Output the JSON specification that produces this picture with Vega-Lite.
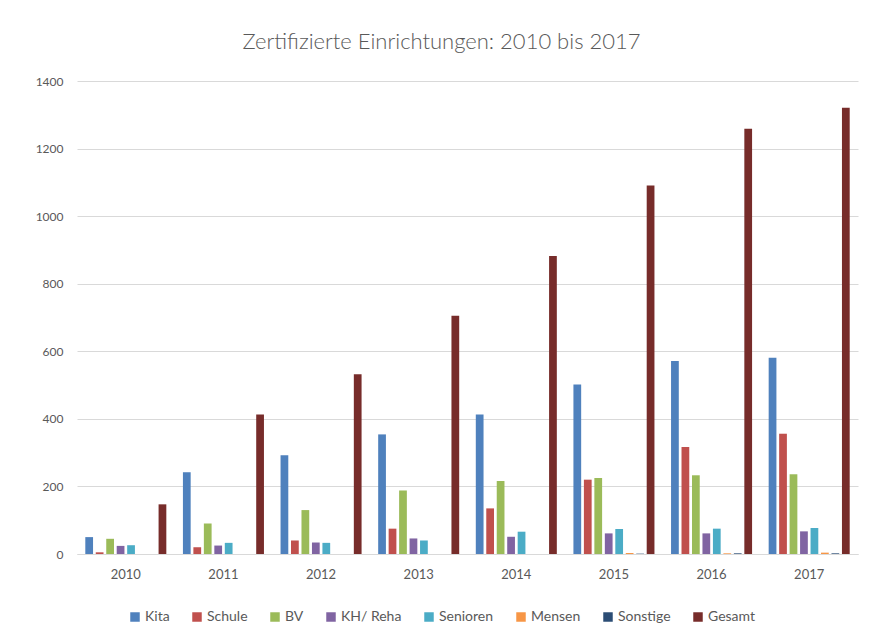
{
  "$schema": "https://vega.github.io/schema/vega-lite/v6.json",
  "width": 781,
  "height": 473,
  "autosize": {"type": "none"},
  "padding": {"left": 77, "top": 81, "right": 24, "bottom": 89},
  "background": "white",
  "title": {
    "text": "Zertifizierte Einrichtungen: 2010 bis 2017",
    "fontSize": 22,
    "font": "Lato",
    "fontWeight": 300,
    "color": "#595959",
    "anchor": "middle",
    "dx": -26,
    "offset": 21
  },
  "config": {
    "view": {"stroke": null},
    "font": "Lato"
  },
  "data": {
    "values": [
      {"year": "2010", "series": "Kita", "value": 50},
      {"year": "2010", "series": "Schule", "value": 5},
      {"year": "2010", "series": "BV", "value": 45},
      {"year": "2010", "series": "KH/ Reha", "value": 24},
      {"year": "2010", "series": "Senioren", "value": 26},
      {"year": "2010", "series": "Mensen", "value": 0},
      {"year": "2010", "series": "Sonstige", "value": 0},
      {"year": "2010", "series": "Gesamt", "value": 147},
      {"year": "2011", "series": "Kita", "value": 242},
      {"year": "2011", "series": "Schule", "value": 20},
      {"year": "2011", "series": "BV", "value": 90},
      {"year": "2011", "series": "KH/ Reha", "value": 25},
      {"year": "2011", "series": "Senioren", "value": 33},
      {"year": "2011", "series": "Mensen", "value": 0},
      {"year": "2011", "series": "Sonstige", "value": 0},
      {"year": "2011", "series": "Gesamt", "value": 413},
      {"year": "2012", "series": "Kita", "value": 292},
      {"year": "2012", "series": "Schule", "value": 40},
      {"year": "2012", "series": "BV", "value": 130},
      {"year": "2012", "series": "KH/ Reha", "value": 34},
      {"year": "2012", "series": "Senioren", "value": 33},
      {"year": "2012", "series": "Mensen", "value": 0},
      {"year": "2012", "series": "Sonstige", "value": 0},
      {"year": "2012", "series": "Gesamt", "value": 532},
      {"year": "2013", "series": "Kita", "value": 354},
      {"year": "2013", "series": "Schule", "value": 75},
      {"year": "2013", "series": "BV", "value": 188},
      {"year": "2013", "series": "KH/ Reha", "value": 46},
      {"year": "2013", "series": "Senioren", "value": 40},
      {"year": "2013", "series": "Mensen", "value": 0},
      {"year": "2013", "series": "Sonstige", "value": 0},
      {"year": "2013", "series": "Gesamt", "value": 705},
      {"year": "2014", "series": "Kita", "value": 413},
      {"year": "2014", "series": "Schule", "value": 135},
      {"year": "2014", "series": "BV", "value": 216},
      {"year": "2014", "series": "KH/ Reha", "value": 51},
      {"year": "2014", "series": "Senioren", "value": 66},
      {"year": "2014", "series": "Mensen", "value": 0},
      {"year": "2014", "series": "Sonstige", "value": 0},
      {"year": "2014", "series": "Gesamt", "value": 882},
      {"year": "2015", "series": "Kita", "value": 502},
      {"year": "2015", "series": "Schule", "value": 220},
      {"year": "2015", "series": "BV", "value": 225},
      {"year": "2015", "series": "KH/ Reha", "value": 61},
      {"year": "2015", "series": "Senioren", "value": 74},
      {"year": "2015", "series": "Mensen", "value": 3},
      {"year": "2015", "series": "Sonstige", "value": 1},
      {"year": "2015", "series": "Gesamt", "value": 1091},
      {"year": "2016", "series": "Kita", "value": 571},
      {"year": "2016", "series": "Schule", "value": 317},
      {"year": "2016", "series": "BV", "value": 233},
      {"year": "2016", "series": "KH/ Reha", "value": 61},
      {"year": "2016", "series": "Senioren", "value": 75},
      {"year": "2016", "series": "Mensen", "value": 2},
      {"year": "2016", "series": "Sonstige", "value": 2},
      {"year": "2016", "series": "Gesamt", "value": 1259},
      {"year": "2017", "series": "Kita", "value": 581},
      {"year": "2017", "series": "Schule", "value": 356},
      {"year": "2017", "series": "BV", "value": 236},
      {"year": "2017", "series": "KH/ Reha", "value": 67},
      {"year": "2017", "series": "Senioren", "value": 77},
      {"year": "2017", "series": "Mensen", "value": 4},
      {"year": "2017", "series": "Sonstige", "value": 2},
      {"year": "2017", "series": "Gesamt", "value": 1321}
    ]
  },
  "mark": {"type": "bar"},
  "encoding": {
    "x": {
      "field": "year",
      "type": "nominal",
      "scale": {"paddingInner": 0.17, "paddingOuter": 0.085},
      "axis": {
        "title": null,
        "labelAngle": 0,
        "ticks": false,
        "domain": true,
        "domainColor": "#d9d9d9",
        "labelPadding": 14,
        "labelFontSize": 13,
        "labelColor": "#595959",
        "grid": false
      }
    },
    "xOffset": {
      "field": "series",
      "type": "nominal",
      "sort": ["Kita", "Schule", "BV", "KH/ Reha", "Senioren", "Mensen", "Sonstige", "Gesamt"],
      "scale": {"paddingInner": 0.26, "paddingOuter": 0}
    },
    "y": {
      "field": "value",
      "type": "quantitative",
      "scale": {"domain": [0, 1400], "nice": false},
      "axis": {
        "title": null,
        "values": [0, 200, 400, 600, 800, 1000, 1200, 1400],
        "format": "d",
        "ticks": false,
        "domain": false,
        "gridColor": "#d9d9d9",
        "labelPadding": 14,
        "labelFontSize": 12,
        "labelColor": "#595959"
      }
    },
    "color": {
      "field": "series",
      "type": "nominal",
      "sort": ["Kita", "Schule", "BV", "KH/ Reha", "Senioren", "Mensen", "Sonstige", "Gesamt"],
      "scale": {
        "domain": ["Kita", "Schule", "BV", "KH/ Reha", "Senioren", "Mensen", "Sonstige", "Gesamt"],
        "range": ["#4F81BD", "#C0504D", "#9BBB59", "#8064A2", "#4BACC6", "#F79646", "#2C4D75", "#772C2A"]
      },
      "legend": {
        "title": null,
        "orient": "none",
        "legendX": 51,
        "legendY": 529,
        "direction": "horizontal",
        "columns": 8,
        "symbolType": "square",
        "symbolSize": 90,
        "symbolStrokeWidth": 0,
        "labelFontSize": 14,
        "labelColor": "#595959",
        "columnPadding": 20,
        "labelOffset": 3
      }
    }
  }
}
